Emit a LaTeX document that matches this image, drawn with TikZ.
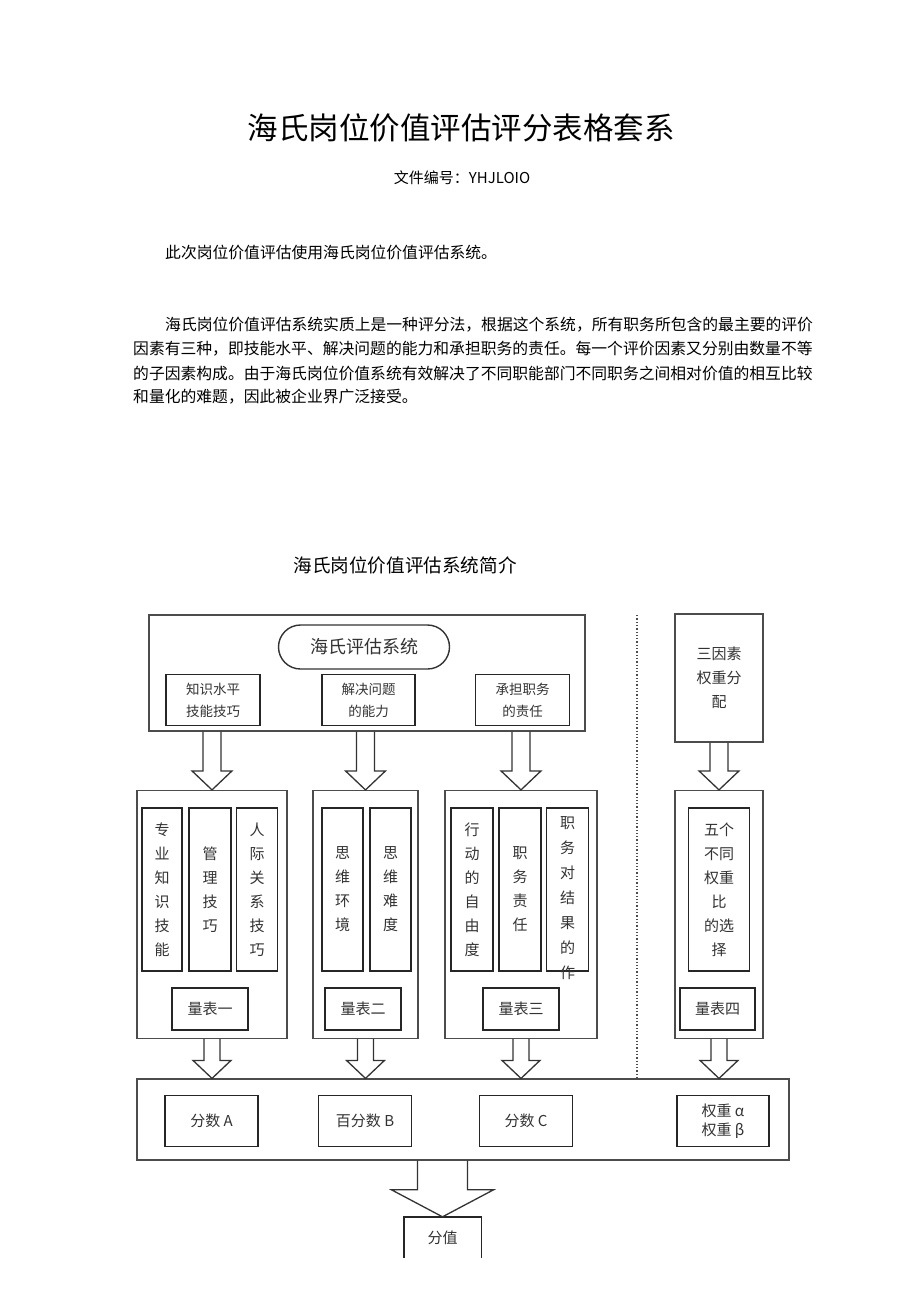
\documentclass[tikz,border=0pt]{standalone}
\usepackage{fontspec}
\usetikzlibrary{calc}
\newfontfamily\cjk{Noto Sans CJK SC}

\tikzset{
  bigbox/.style={draw=black!70,line width=1.2pt,inner sep=0pt},
  subbox/.style={draw=black!85,line width=1.4pt,inner sep=0pt,align=center,
    text=black!80,font=\cjk\fontsize{13.5}{22}\selectfont},
  colbox/.style={draw=black!85,line width=1.4pt,inner sep=0pt,minimum height=163,
    align=center,text=black!80,font=\cjk\fontsize{15}{24}\selectfont},
  scalebox/.style={draw=black!85,line width=1.4pt,inner sep=0pt,minimum width=76,
    minimum height=42,text=black!80,font=\cjk\fontsize{15}{18}\selectfont},
  scorebox/.style={draw=black!85,line width=1.4pt,inner sep=0pt,minimum width=93,
    minimum height=51,align=center,text=black!80,font=\cjk\fontsize{15}{19}\selectfont},
  fatarrow/.style={draw=black!80,line width=1.3pt,line join=miter},
  bodytext/.style={font=\cjk\fontsize{15.8}{24}\selectfont,anchor=west,inner sep=0pt}
}

% block arrow: x from #1, starts under #2, tip on #3
% #4 half shaft, #5 half head, #6 head length
\newcommand{\hayarrow}[6]{%
  \draw[fatarrow] let \p1=(#1 |- #2.south), \p2=(#1 |- #3.north) in
    (\x1-#4pt,\y1) -- (\x1-#4pt,\y2+#6pt) -- (\x1-#5pt,\y2+#6pt) -- (\x2,\y2)
    -- (\x1+#5pt,\y2+#6pt) -- (\x1+#4pt,\y2+#6pt) -- (\x1+#4pt,\y1);}

\begin{document}
\begin{tikzpicture}[x=1pt,y=-1pt]
  \useasboundingbox[fill=white] (0,0) rectangle (920,1301);

  % Heading
  \node[font=\cjk\fontsize{30.5}{36}\selectfont] (title) at (461,128) {海氏岗位价值评估评分表格套系};
  \node[font=\cjk\fontsize{15}{18}\selectfont] (docno) at (462,178) {文件编号：YHJLOIO};

  % Text
  \node[bodytext] (p1) at (165,252) {此次岗位价值评估使用海氏岗位价值评估系统。};
  \node[bodytext] (p2a) at (165,325) {海氏岗位价值评估系统实质上是一种评分法，根据这个系统，所有职务所包含的最主要的评价};
  \node[bodytext] (p2b) at (133,349) {因素有三种，即技能水平、解决问题的能力和承担职务的责任。每一个评价因素又分别由数量不等};
  \node[bodytext] (p2c) at (133,373) {的子因素构成。由于海氏岗位价值系统有效解决了不同职能部门不同职务之间相对价值的相互比较};
  \node[bodytext] (p2d) at (133,397) {和量化的难题，因此被企业界广泛接受。};

  % Diagram title
  \node[font=\cjk\fontsize{18.6}{22}\selectfont] (dtitle) at (405,565) {海氏岗位价值评估系统简介};

  % Top level
  \node[bigbox,minimum width=436,minimum height=116] (sys) at (367,673) {};
  \node[draw=black!80,line width=1.4pt,rounded corners=22,minimum width=171,minimum height=44,
    text=black!80,font=\cjk\fontsize{18}{22}\selectfont] (hay) at (364,647) {海氏评估系统};
  \node[subbox,minimum width=94,minimum height=51] (k1) at (213,700) {知识水平\\技能技巧};
  \node[subbox,minimum width=93,minimum height=51] (k2) at (368.5,700) {解决问题\\的能力};
  \node[subbox,minimum width=94,minimum height=51] (k3) at (522.5,700) {承担职务\\的责任};
  \node[bigbox,minimum width=88,minimum height=128,align=center,text=black!80,
    font=\cjk\fontsize{15}{24}\selectfont] (w0) at (719,678) {三因素\\权重分\\配};

  % Dotted separator
  \coordinate (sepa) at (637,615);
  \coordinate (sepb) at (637,1080);
  \draw[dotted,line width=1.3pt,black!70] (sepa) -- (sepb);

  % Second level
  \node[bigbox,minimum width=150,minimum height=248] (g1) at (212,914.5) {};
  \node[bigbox,minimum width=105,minimum height=248] (g2) at (365.5,914.5) {};
  \node[bigbox,minimum width=152,minimum height=248] (g3) at (521,914.5) {};
  \node[bigbox,minimum width=88,minimum height=248] (g4) at (719,914.5) {};

  \node[colbox,minimum width=40] (c11) at (162,889.5) {专\\业\\知\\识\\技\\能};
  \node[colbox,minimum width=42] (c12) at (210,889.5) {管\\理\\技\\巧};
  \node[colbox,minimum width=41] (c13) at (257,889.5) {人\\际\\关\\系\\技\\巧};
  \node[colbox,minimum width=41] (c21) at (342.5,889.5) {思\\维\\环\\境};
  \node[colbox,minimum width=41] (c22) at (390.5,889.5) {思\\维\\难\\度};
  \node[colbox,minimum width=42] (c31) at (472,889.5) {行\\动\\的\\自\\由\\度};
  \node[colbox,minimum width=42] (c32) at (520,889.5) {职\\务\\责\\任};
  \node[colbox,minimum width=42] (c33) at (567.5,889.5) {};
  \node[align=center,text=black!80,font=\cjk\fontsize{15}{25}\selectfont] (c33t) at (567.5,898) {职\\务\\对\\结\\果\\的\\作};
  \node[colbox,minimum width=61] (c41) at (719,889.5) {五个\\不同\\权重\\比\\的选\\择};

  % Scales
  \node[scalebox] (s1) at (210,1009) {量表一};
  \node[scalebox] (s2) at (363,1009) {量表二};
  \node[scalebox] (s3) at (521,1009) {量表三};
  \node[scalebox,minimum width=75] (s4) at (717.5,1009) {量表四};

  % Bottom level
  \node[bigbox,minimum width=652,minimum height=81] (base) at (463,1119.5) {};
  \node[scorebox] (r1) at (211.5,1121) {分数 A};
  \node[scorebox] (r2) at (365,1121) {百分数 B};
  \node[scorebox] (r3) at (526,1121) {分数 C};
  \node[scorebox,minimum width=92] (r4) at (723,1121) {权重 α\\权重 β};

  % Result
  \node[minimum width=77,minimum height=41,inner sep=0pt,text=black!80,
    font=\cjk\fontsize{15}{18}\selectfont] (fz) at (442.5,1237.5) {分值};
  \draw[draw=black!85,line width=1.4pt] (fz.south west) -- (fz.north west) -- (fz.north east) -- (fz.south east);

  % Arrows
  \hayarrow{g1}{sys}{g1}{9}{20}{19}
  \hayarrow{g2}{sys}{g2}{9}{20}{19}
  \hayarrow{g3}{sys}{g3}{9}{20}{19}
  \hayarrow{g4}{w0}{g4}{9}{20}{19}
  \hayarrow{g1}{g1}{base}{8}{19}{18}
  \hayarrow{g2}{g2}{base}{8}{19}{18}
  \hayarrow{g3}{g3}{base}{8}{19}{18}
  \hayarrow{g4}{g4}{base}{8}{19}{18}
  \hayarrow{fz}{base}{fz}{25}{51}{27}
\end{tikzpicture}
\end{document}
